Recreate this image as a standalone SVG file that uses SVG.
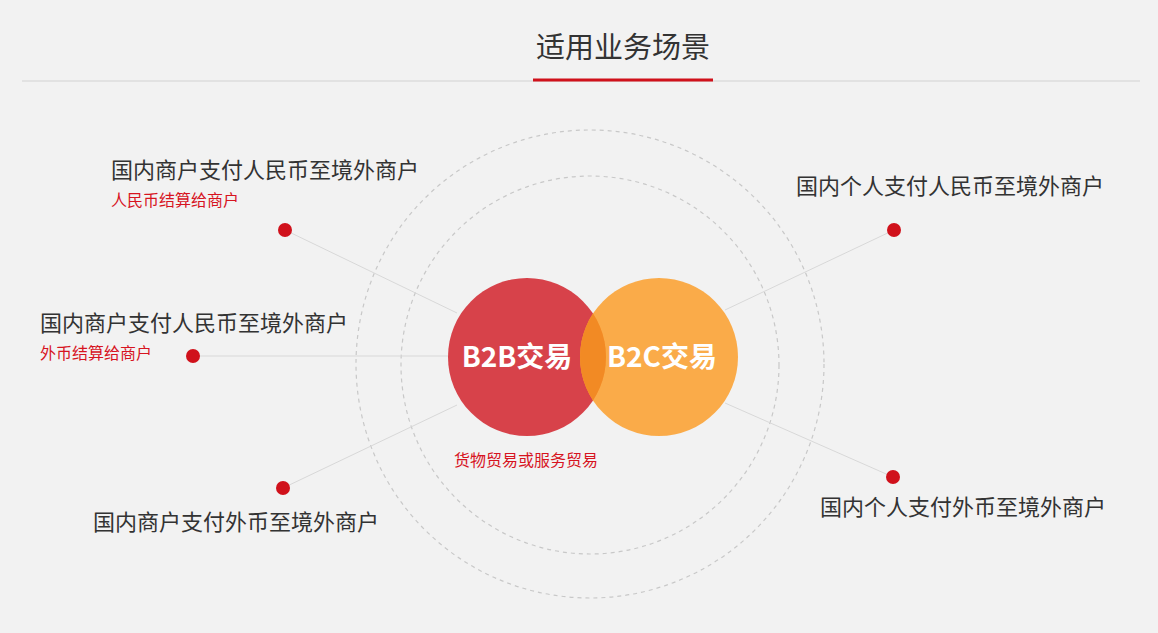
<svg xmlns="http://www.w3.org/2000/svg" width="1158" height="633" viewBox="0 0 1158 633">
<style>
text{font-family:"Noto Sans CJK SC","Noto Sans",sans-serif}
.lbl{font-size:22px;fill:#333}
.sub{font-size:16px;fill:#d7141f}
.dot{fill:#d0111b}
.ln{stroke:#d8d8d8;stroke-width:1}
.ring{fill:none;stroke:#c8c8c8;stroke-width:1.2;stroke-dasharray:4 4}
.big{font-size:28px;font-weight:bold;fill:#fff}
</style>
<rect width="1158" height="633" fill="#f2f2f2"/>
<line x1="22" y1="81" x2="1140" y2="81" stroke="#e2e2e2" stroke-width="2"/>
<line x1="533" y1="80" x2="713" y2="80" stroke="#d0111b" stroke-width="3"/>
<text x="623" y="58" text-anchor="middle" font-size="29" fill="#333">适用业务场景</text>
<circle class="ring" cx="590" cy="364" r="234"/>
<circle class="ring" cx="590" cy="365" r="189"/>
<g id="connectors">
<line class="ln" x1="285" y1="230" x2="457" y2="313"/>
<line class="ln" x1="193" y1="356" x2="449" y2="356"/>
<line class="ln" x1="283" y1="488" x2="457" y2="405"/>
<line class="ln" x1="894" y1="230" x2="725" y2="310"/>
<line class="ln" x1="893" y1="477" x2="725" y2="403"/>
</g>
<g id="b2b"><circle cx="527" cy="357" r="79" fill="#d7424a"/></g>
<g id="b2c"><circle cx="659" cy="357" r="79" fill="#fba63c" fill-opacity="0.93"/></g>
<clipPath id="cl"><circle cx="527" cy="357" r="79"/></clipPath>
<circle cx="659" cy="357" r="79" fill="#f28a24" clip-path="url(#cl)"/>
<text class="big" x="517" y="367" text-anchor="middle">B2B交易</text>
<text class="big" x="662" y="367" text-anchor="middle">B2C交易</text>
<text x="526" y="466" text-anchor="middle" font-size="16" fill="#d7141f">货物贸易或服务贸易</text>
<g id="n1"><circle class="dot" cx="285" cy="230" r="7"/><text class="lbl" x="111" y="178">国内商户支付人民币至境外商户</text><text class="sub" x="111" y="206">人民币结算给商户</text></g>
<g id="n2"><circle class="dot" cx="193" cy="356" r="7"/><text class="lbl" x="40" y="331">国内商户支付人民币至境外商户</text><text class="sub" x="40" y="359">外币结算给商户</text></g>
<g id="n3"><circle class="dot" cx="283" cy="488" r="7"/><text class="lbl" x="93" y="530">国内商户支付外币至境外商户</text></g>
<g id="n4"><circle class="dot" cx="894" cy="230" r="7"/><text class="lbl" x="796" y="194">国内个人支付人民币至境外商户</text></g>
<g id="n5"><circle class="dot" cx="893" cy="477" r="7"/><text class="lbl" x="820" y="515">国内个人支付外币至境外商户</text></g>
</svg>
